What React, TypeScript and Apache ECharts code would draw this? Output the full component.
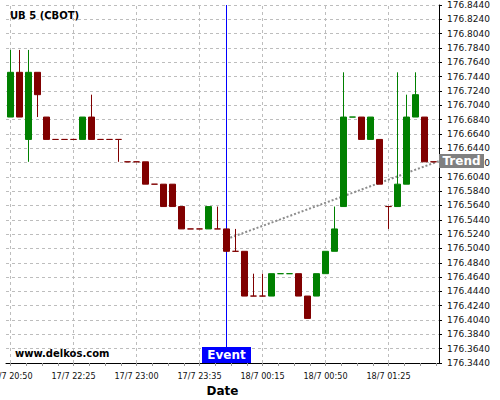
import { useEffect, useRef } from "react";
import * as echarts from "echarts";

const times = [
  "17/7 20:50", "17/7 20:55", "17/7 22:00", "17/7 22:05", "17/7 22:10", "17/7 22:15", "17/7 22:20", "17/7 22:25",
  "17/7 22:30", "17/7 22:35", "17/7 22:40", "17/7 22:45", "17/7 22:50", "17/7 22:55", "17/7 23:00", "17/7 23:05",
  "17/7 23:10", "17/7 23:15", "17/7 23:20", "17/7 23:25", "17/7 23:30", "17/7 23:35", "17/7 23:40", "17/7 23:45",
  "17/7 23:50", "17/7 23:55", "18/7 00:05", "18/7 00:10", "18/7 00:15", "18/7 00:20", "18/7 00:25", "18/7 00:30",
  "18/7 00:35", "18/7 00:40", "18/7 00:45", "18/7 00:50", "18/7 00:55", "18/7 01:00", "18/7 01:05", "18/7 01:10",
  "18/7 01:15", "18/7 01:20", "18/7 01:25", "18/7 01:30", "18/7 01:35", "18/7 01:40", "18/7 01:45", "18/7 01:50",
];

const opens = [
  176.6875, 176.75, 176.65625, 176.75, 176.6875, 176.65625, 176.65625, 176.65625,
  176.65625, 176.6875, 176.65625, 176.65625, 176.65625, 176.625, 176.625, 176.625,
  176.59375, 176.59375, 176.59375, 176.5625, 176.53125, 176.53125, 176.53125, 176.53125,
  176.53125, 176.5, 176.5, 176.4375, 176.4375, 176.4375, 176.46875, 176.46875,
  176.46875, 176.4375, 176.4375, 176.46875, 176.5, 176.5625, 176.6875, 176.6875,
  176.65625, 176.65625, 176.5625, 176.5625, 176.59375, 176.6875, 176.6875, 176.625,
];
const closes = [
  176.75, 176.6875, 176.75, 176.71875, 176.65625, 176.65625, 176.65625, 176.65625,
  176.6875, 176.65625, 176.65625, 176.65625, 176.65625, 176.625, 176.625, 176.59375,
  176.59375, 176.5625, 176.5625, 176.53125, 176.53125, 176.53125, 176.5625, 176.53125,
  176.5, 176.5, 176.4375, 176.4375, 176.4375, 176.46875, 176.46875, 176.46875,
  176.4375, 176.40625, 176.46875, 176.5, 176.53125, 176.6875, 176.6875, 176.65625,
  176.6875, 176.59375, 176.5625, 176.59375, 176.6875, 176.71875, 176.625, 176.625,
];
const lows = [
  176.6875, 176.6875, 176.625, 176.6875, 176.65625, 176.65625, 176.65625, 176.65625,
  176.65625, 176.65625, 176.65625, 176.65625, 176.625, 176.625, 176.625, 176.59375,
  176.59375, 176.5625, 176.5625, 176.53125, 176.53125, 176.53125, 176.53125, 176.53125,
  176.5, 176.5, 176.4375, 176.4375, 176.4375, 176.4375, 176.46875, 176.46875,
  176.4375, 176.40625, 176.4375, 176.46875, 176.5, 176.5625, 176.6875, 176.65625,
  176.65625, 176.59375, 176.53125, 176.5625, 176.59375, 176.6875, 176.625, 176.625,
];
const highs = [
  176.78125, 176.78125, 176.78125, 176.75, 176.6875, 176.65625, 176.65625, 176.65625,
  176.6875, 176.71875, 176.65625, 176.65625, 176.65625, 176.625, 176.625, 176.625,
  176.59375, 176.59375, 176.59375, 176.5625, 176.53125, 176.53125, 176.5625, 176.5625,
  176.53125, 176.53125, 176.5, 176.46875, 176.46875, 176.46875, 176.46875, 176.46875,
  176.46875, 176.4375, 176.46875, 176.5, 176.5625, 176.75, 176.6875, 176.6875,
  176.6875, 176.65625, 176.5625, 176.75, 176.71875, 176.75, 176.6875, 176.625,
];
// unchanged-price candles drawn in the "up" colour
const greenDojis = [30, 31, 38];

const eventIndex = 24;
const trendPoints = [
  [24, 176.517],
  [47.61, 176.626],
];
const labelIndices = [0, 7, 14, 21, 28, 35, 42];

const Y_MIN = 176.344;
const Y_MAX = 176.844;
const Y_STEP = 0.02;
const X_MIN = -0.5;
const X_MAX = 47.6111;
const TICK_STEP = 1.75;

export default function App() {
  const ref = useRef<HTMLDivElement>(null);

  useEffect(() => {
    document.body.style.margin = "0";
    const chart = echarts.init(ref.current!, null, { renderer: "svg" });
    const UP = "#008000";
    const DOWN = "#800000";
    const FONT = '"DejaVu Sans"';

    const candleData = opens.map((o, i) => {
      const c = closes[i];
      const item: any = { value: [i, o, c, lows[i], highs[i]] };
      if (o === c) {
        const col = greenDojis.includes(i) ? UP : DOWN;
        item.itemStyle = {
          color: col,
          color0: col,
          borderColor: col,
          borderColor0: col,
          borderColorDoji: col,
        };
      }
      return item;
    });

    const tickValues: number[] = [];
    for (let k = 0; k * TICK_STEP <= X_MAX; k++) tickValues.push(k * TICK_STEP);

    const gridLines = labelIndices.map((v) => ({
      xAxis: v,
      lineStyle: { color: "#bdbdbd", type: [3, 3], width: 1 },
    }));

    chart.setOption({
      animation: false,
      grid: { left: 6, right: 61, top: 5, bottom: 37, containLabel: false, outerBoundsMode: "none" },
      xAxis: {
        type: "value",
        min: X_MIN,
        max: X_MAX,
        axisLine: { show: true, onZero: false, lineStyle: { color: "#000", width: 1 } },
        axisTick: { show: true, customValues: tickValues, length: 3, lineStyle: { color: "#999" } },
        axisLabel: {
          customValues: labelIndices,
          formatter: (v: number) => times[Math.round(v)] ?? "",
          fontSize: 9,
          fontFamily: '"DejaVu Sans Condensed", "DejaVu Sans"',
          color: "#111",
          margin: 8,
          hideOverlap: false,
        },
        splitLine: { show: false },
        name: "Date",
        nameLocation: "middle",
        nameGap: 20,
        nameTextStyle: { fontWeight: "bold", fontSize: 12, fontFamily: FONT, color: "#000" },
      },
      yAxis: {
        type: "value",
        position: "right",
        min: Y_MIN,
        max: Y_MAX,
        interval: Y_STEP,
        axisLine: { show: true, onZero: false, lineStyle: { color: "#000", width: 1 } },
        axisTick: { show: true, length: 3, lineStyle: { color: "#000" } },
        axisLabel: {
          formatter: (v: number) => v.toFixed(4),
          fontSize: 9,
          fontFamily: FONT,
          color: "#111",
          margin: 8,
        },
        splitLine: { show: true, lineStyle: { color: "#bdbdbd", type: [3, 3], width: 1 } },
      },
      graphic: [
        {
          type: "text",
          left: 10,
          top: 10,
          z: 10,
          style: { text: "UB 5 (CBOT)", font: `bold 10px ${FONT}`, fill: "#000" },
        },
        {
          type: "text",
          left: 15,
          top: 348,
          z: 10,
          style: { text: "www.delkos.com", font: `bold 10px ${FONT}`, fill: "#000" },
        },
      ],
      series: [
        {
          type: "line",
          data: trendPoints,
          z: 1,
          symbol: "none",
          showSymbol: false,
          lineStyle: { color: "#8c8c8c", width: 2, type: [2, 2] },
          markPoint: {
            z: 6,
            symbol: "rect",
            symbolSize: [45, 14],
            symbolOffset: [22.5, 0],
            itemStyle: { color: "#808080" },
            label: {
              show: true,
              position: "inside",
              formatter: "Trend",
              color: "#fff",
              fontWeight: "bold",
              fontSize: 12,
              fontFamily: FONT,
            },
            data: [{ type: "max" }],
          },
        },
        {
          type: "candlestick",
          data: candleData,
          z: 2,
          barWidth: 6,
          itemStyle: {
            color: UP,
            color0: DOWN,
            borderColor: UP,
            borderColor0: DOWN,
            borderWidth: 1,
          },
          markLine: {
            z: 1,
            silent: true,
            symbol: ["none", "none"],
            label: { show: false },
            data: [
              ...gridLines,
              { xAxis: eventIndex, lineStyle: { color: "#0000ff", type: "solid", width: 1 } },
            ],
          },
          markPoint: {
            z: 6,
            symbol: "rect",
            symbolSize: [49, 16],
            symbolOffset: [0, -8],
            itemStyle: { color: "#0000ff" },
            label: {
              show: true,
              position: "inside",
              formatter: "Event",
              color: "#fff",
              fontWeight: "bold",
              fontSize: 12,
              fontFamily: FONT,
            },
            data: [{ coord: [eventIndex, Y_MIN] }],
          },
        },
      ],
    });

    return () => chart.dispose();
  }, []);

  return <div ref={ref} style={{ width: 500, height: 400 }} />;
}
